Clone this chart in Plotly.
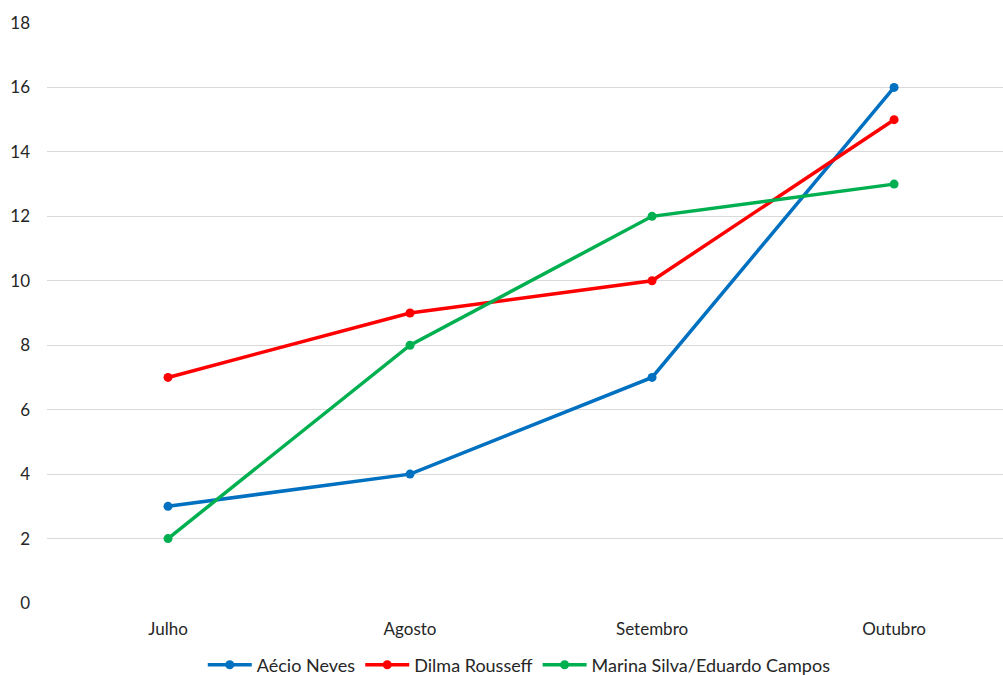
import plotly.graph_objects as go

meses = ["Julho", "Agosto", "Setembro", "Outubro"]
aecio = [3, 4, 7, 16]
dilma = [7, 9, 10, 15]
marina = [2, 8, 12, 13]
y_ticks = list(range(0, 19, 2))

series = [
    ("Aécio Neves", aecio, "#0070C0"),
    ("Dilma Rousseff", dilma, "#FF0000"),
    ("Marina Silva/Eduardo Campos", marina, "#00B050"),
]

fig = go.Figure()
for nome, valores, cor in series:
    fig.add_trace(go.Scatter(
        x=list(range(len(meses))), y=valores, name=nome,
        mode="lines+markers",
        line=dict(color=cor, width=3.5),
        marker=dict(color=cor, size=9),
    ))

fig.update_layout(
    width=1003, height=675,
    margin=dict(l=47, r=0, t=23, b=72, autoexpand=False),
    plot_bgcolor="white", paper_bgcolor="white",
    font=dict(family="Lato, Open Sans, sans-serif", size=17, color="#262626"),
    showlegend=True,
    legend=dict(orientation="h", x=0.494, xanchor="center",
                y=-0.107, yanchor="middle",
                font=dict(size=18), itemwidth=44, tracegroupgap=0),
    xaxis=dict(
        range=[-0.5, 3.45], tickmode="array",
        tickvals=list(range(len(meses))), ticktext=meses,
        showgrid=False, zeroline=False, showline=False, ticks="",
        ticklabelstandoff=14, automargin=False,
    ),
    yaxis=dict(
        range=[0, 18], tickmode="array", tickvals=y_ticks,
        showgrid=True, gridcolor="#D9D9D9", gridwidth=1.3,
        zeroline=False, showline=False, ticks="",
        ticklabelstandoff=16, automargin=False,
    ),
)

fig.write_html("out.html")
